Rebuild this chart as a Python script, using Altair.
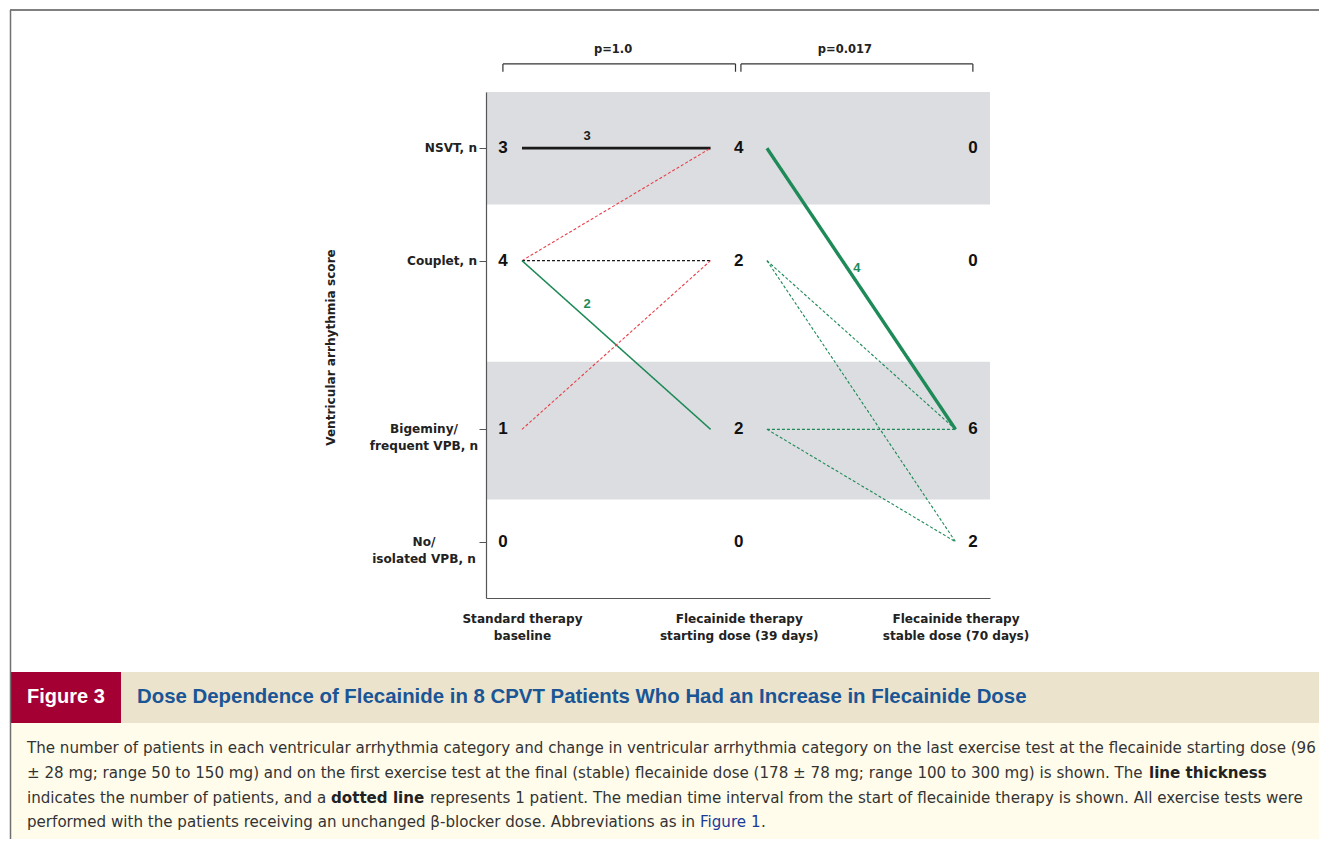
import json
import altair as alt
import pandas as pd

# ---------------- data ----------------
categories = ["NSVT, n", "Couplet, n", "Bigeminy/\nfrequent VPB, n", "No/\nisolated VPB, n"]
cat_pos = [8, 6, 3, 1]
stages = ["Standard therapy\nbaseline",
          "Flecainide therapy\nstarting dose (39 days)",
          "Flecainide therapy\nstable dose (70 days)"]
stage_x = [0, 1, 2]
count_x = [-0.088, 1.0, 2.08]
counts_baseline = [3, 4, 1, 0]
counts_start = [4, 2, 2, 0]
counts_stable = [0, 0, 6, 2]

# transitions (index into categories)
seg_stage = [0, 0, 0, 0, 0, 1, 1, 1, 1, 1]
seg_from = [0, 1, 1, 1, 2, 0, 1, 1, 2, 2]
seg_to = [0, 0, 1, 2, 1, 2, 2, 3, 2, 3]
seg_n = [3, 1, 1, 2, 1, 4, 1, 1, 1, 1]
seg_kind = ["same", "worse", "same", "better", "worse",
            "better", "better", "better", "better", "better"]
seg_start_x = [0.0, 1.13]
seg_end_x = [0.87, 2.0]

lab_text = ["3", "2", "4"]
lab_x = [0.30, 0.30, 1.545]
lab_y = [8.22, 5.23, 5.87]
lab_kind = ["same", "better", "better"]

bands_lo = [7.0, 1.75]
bands_hi = [9.0, 4.2]

p_text = ["p=1.0", "p=0.017"]
p_x = [0.42, 1.49]
br_x0 = [-0.088, 1.01]
br_x1 = [0.985, 2.08]
br_top = 9.50
br_bot = 9.36
p_y = 9.75

fig_label = "Figure 3"
fig_title = "Dose Dependence of Flecainide in 8 CPVT Patients Who Had an Increase in Flecainide Dose"
cap_lines = [
    [("The number of patients in each ventricular arrhythmia category and change in ventricular arrhythmia category on the last exercise test at the flecainide starting dose (96", "normal", "#333333", 27)],
    [("\u00b1 28 mg; range 50 to 150 mg) and on the first exercise test at the final (stable) flecainide dose (178 \u00b1 78 mg; range 100 to 300 mg) is shown. The", "normal", "#333333", 27),
     ("line thickness", "bold", "#222222", 1149)],
    [("indicates the number of patients, and a", "normal", "#333333", 27),
     ("dotted line", "bold", "#222222", 331),
     ("represents 1 patient. The median time interval from the start of flecainide therapy is shown. All exercise tests were", "normal", "#333333", 430)],
    [("performed with the patients receiving an unchanged \u03b2-blocker dose. Abbreviations as in", "normal", "#333333", 27),
     ("Figure 1", "normal", "#1a3a9a", 700),
     (".", "normal", "#333333", 761)],
]

# ---------------- layout constants ----------------
FONT = "DejaVu Sans"
CAP_FONT = "DejaVu Sans"
CAP_SIZE = 15.1
LBL_SIZE = 12.1
W, H = 504, 506
OX, OY = 486, 92  # page position of plot origin
color_dom = ["same", "worse", "better"]
color_rng = ["#1a1a1a", "#e8404a", "#1e8a58"]

xs = alt.Scale(domain=[-0.166, 2.159], nice=False, zero=False)
ys = alt.Scale(domain=[0, 9], nice=False, zero=False)

# ---------------- tables ----------------
seg_df = pd.DataFrame({
    "x0": [seg_start_x[s] for s in seg_stage],
    "x1": [seg_end_x[s] for s in seg_stage],
    "y0": [cat_pos[i] for i in seg_from],
    "y1": [cat_pos[i] for i in seg_to],
    "n": seg_n,
    "kind": seg_kind,
})
rows = []
for cx, cnts in zip(count_x, [counts_baseline, counts_start, counts_stable]):
    for p, c in zip(cat_pos, cnts):
        rows.append({"x": cx, "y": p, "t": str(c)})
cnt_df = pd.DataFrame(rows)
lab_df = pd.DataFrame({"x": lab_x, "y": lab_y, "t": lab_text, "kind": lab_kind})
band_df = pd.DataFrame({"lo": bands_lo, "hi": bands_hi})
cat_df = pd.DataFrame({"label": categories, "pos": cat_pos})
br_df = pd.DataFrame({"x0": br_x0, "x1": br_x1, "t": p_text, "px": p_x})

label_expr = " : ".join(
    f"datum.value == {v} ? {json.dumps(s.split(chr(10)))}" for v, s in zip(stage_x[:-1], stages[:-1])
) + f" : {json.dumps(stages[-1].split(chr(10)))}"

# ---------------- chart layers ----------------
bands = alt.Chart(band_df).mark_rect(color="#dcdde0").encode(
    x=alt.value(0), x2=alt.value(W),
    y=alt.Y("lo:Q", scale=ys), y2="hi:Q")

segs = alt.Chart(seg_df).mark_rule().encode(
    x=alt.X("x0:Q", scale=xs, axis=alt.Axis(
        values=stage_x, labelExpr=label_expr, ticks=False, grid=False, title=None, zindex=1,
        domainColor="#555555", domainWidth=1.2, labelFont=FONT, labelFontSize=LBL_SIZE,
        labelFontWeight="bold", labelColor="#222222", labelPadding=14,
        labelBaseline="top", labelLineHeight=17)),
    x2="x1:Q",
    y=alt.Y("y0:Q", scale=ys, axis=alt.Axis(
        values=cat_pos, labels=False, grid=False, tickSize=7, tickColor="#555555", zindex=1,
        domainColor="#555555", domainWidth=1.2,
        title="Ventricular arrhythmia score", titleFont=FONT, titleFontSize=LBL_SIZE,
        titleFontWeight="bold", titleColor="#222222", titleAngle=270,
        titleX=-156, titleY=255, titleAlign="center", titleBaseline="middle")),
    y2="y1:Q",
    color=alt.Color("kind:N", scale=alt.Scale(domain=color_dom, range=color_rng), legend=None),
    strokeWidth=alt.StrokeWidth("n:O", scale=alt.Scale(type="ordinal", domain=[1, 2, 3, 4], range=[1.1, 1.5, 2.8, 3.4]), legend=None),
    strokeDash=alt.StrokeDash("n:O", scale=alt.Scale(domain=[1, 2, 3, 4], range=[[3, 2], [1, 0], [1, 0], [1, 0]]), legend=None),
)

counts = alt.Chart(cnt_df).mark_text(font="Liberation Sans", fontSize=17, fontWeight="bold",
                                     color="#111111", baseline="middle", align="center").encode(
    x=alt.X("x:Q", scale=xs), y=alt.Y("y:Q", scale=ys), text="t:N")

labs = alt.Chart(lab_df).mark_text(font="Liberation Sans", fontSize=13, fontWeight="bold",
                                   baseline="middle", align="center").encode(
    x=alt.X("x:Q", scale=xs), y=alt.Y("y:Q", scale=ys), text="t:N",
    color=alt.Color("kind:N", scale=alt.Scale(domain=color_dom, range=color_rng), legend=None))

cat_single = alt.Chart(cat_df).transform_filter("indexof(datum.label, '\\n') < 0").mark_text(
    font=FONT, fontSize=LBL_SIZE, fontWeight="bold", color="#222222", align="right", baseline="middle").encode(
    x=alt.value(-9), y=alt.Y("pos:Q", scale=ys), text="label:N")
cat_multi = alt.Chart(cat_df).transform_filter("indexof(datum.label, '\\n') >= 0").mark_text(
    font=FONT, fontSize=LBL_SIZE, fontWeight="bold", color="#222222", align="center", baseline="middle",
    lineBreak="\n", lineHeight=17).encode(
    x=alt.value(-62), y=alt.Y("pos:Q", scale=ys), text="label:N")

br_h = alt.Chart(br_df).mark_rule(color="#333333", strokeWidth=1.2).encode(
    x=alt.X("x0:Q", scale=xs), x2="x1:Q", y=alt.datum(br_top, scale=ys))
br_l = alt.Chart(br_df).mark_rule(color="#333333", strokeWidth=1.2).encode(
    x=alt.X("x0:Q", scale=xs), y=alt.datum(br_top, scale=ys), y2=alt.datum(br_bot))
br_r = alt.Chart(br_df).mark_rule(color="#333333", strokeWidth=1.2).encode(
    x=alt.X("x1:Q", scale=xs), y=alt.datum(br_top, scale=ys), y2=alt.datum(br_bot))
p_lab = alt.Chart(br_df).mark_text(
    font=FONT, fontSize=11.5, fontWeight="bold", color="#222222", align="center", baseline="middle").encode(
    x=alt.X("px:Q", scale=xs), y=alt.datum(p_y, scale=ys), text="t:N")

# ---------------- caption / frame decorations ----------------
one = pd.DataFrame({"a": [0]})


def rect(x0, x1, y0, y1, color):
    return alt.Chart(one).mark_rect(color=color).encode(
        x=alt.value(x0 - OX), x2=alt.value(x1 - OX), y=alt.value(y0 - OY), y2=alt.value(y1 - OY))


def text(s, px, py, size, color, weight="normal", font=CAP_FONT):
    return alt.Chart(pd.DataFrame({"t": [s]})).mark_text(
        font=font, fontSize=size, fontWeight=weight, color=color, align="left", baseline="middle").encode(
        x=alt.value(px - OX), y=alt.value(py - OY), text="t:N")


deco = [
    rect(11, 1327, 722, 847, "#fffcec"),
    rect(10, 121, 672, 723, "#a50034"),
    rect(121, 1327, 672, 723, "#ebe3cc"),
    text(fig_label, 27, 697, 20, "#ffffff", "bold", "Liberation Sans"),
    text(fig_title, 137, 697, 20.4, "#1a5596", "bold", "Liberation Sans"),
]
line_y = [748, 773, 798, 822]
for ly, segs_ in zip(line_y, cap_lines):
    for s, wgt, col, px in segs_:
        deco.append(text(s, px, ly, CAP_SIZE, col, wgt))

frame_top = alt.Chart(one).mark_rule(color="#808080", strokeWidth=2).encode(
    x=alt.value(10 - OX), x2=alt.value(1327 - OX), y=alt.value(10 - OY))
frame_left = alt.Chart(one).mark_rule(color="#707070", strokeWidth=1.5).encode(
    x=alt.value(10.5 - OX), y=alt.value(10 - OY), y2=alt.value(847 - OY))

chart = alt.layer(
    bands, segs, counts, labs, cat_single, cat_multi, br_h, br_l, br_r, p_lab,
    *deco, frame_top, frame_left
).properties(
    width=W, height=H,
    padding={"left": OX - 8, "top": OY - 8, "right": 1311 - (OX - 8) - W, "bottom": 831 - (OY - 8) - H},
    autosize=alt.AutoSizeParams(type="none"),
    background="white",
).configure_view(stroke=None)

chart.save("out.html", embed_options={"renderer": "svg", "actions": False})
